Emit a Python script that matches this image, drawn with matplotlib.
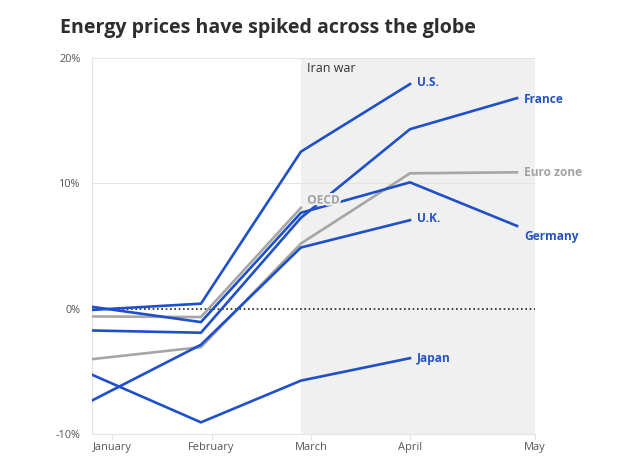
import matplotlib
matplotlib.use("Agg")
import matplotlib.pyplot as plt
import matplotlib.patheffects as pe

# ---- data ----
x_points = [-0.207, 0.893, 1.900, 2.998, 4.076]   # monthly observations (month-index axis)
month_labels = ["January", "February", "March", "April", "May"]
month_ticks = [0, 1, 2, 3, 4.257]

us = [-0.10, 0.40, 12.53, 17.92]
france = [-1.74, -1.92, 7.25, 14.32, 16.80]
euro_zone = [-4.03, -3.07, 5.20, 10.80, 10.88]
germany = [0.15, -1.07, 7.65, 10.08, 6.60]
uk = [-7.34, -2.88, 4.88, 7.06]
oecd = [-0.62, -0.67, 8.05]
japan = [-5.26, -9.07, -5.74, -3.95]

y_ticks = [-10, 0, 10, 20]
y_tick_labels = ["-10%", "0%", "10%", "20%"]

BLUE = "#1f50c9"
BLUE_TXT = "#2553c4"
GRAY = "#a6a6a6"
GRAY_TXT = "#a3a3a3"
SHADE = "#f0f0f0"

plt.rcParams['font.family'] = ['Open Sans', 'DejaVu Sans']

fig = plt.figure(figsize=(6.28, 4.67), dpi=100)
ax = fig.add_axes([91.7/628, 33/467, (535-91.7)/628, (434-58)/467])

xmin, xmax = x_points[0], month_ticks[-1]
ax.set_xlim(xmin, xmax)
ax.set_ylim(-10, 20)

# shaded Iran war period
ax.axvspan(x_points[2], xmax, color=SHADE, zorder=0, lw=0)
ax.text(x_points[2] + 0.065, 19.2, "Iran war", fontsize=9, color="#333333",
        va="center", ha="left", zorder=5)

# grid
for yv in [10, 20]:
    ax.axhline(yv, color="#e4e4e4", lw=0.8, zorder=1)
ax.axhline(0, color="#222222", lw=1.2, ls=(0, (1, 1.6)), zorder=2)

# name, values, line colour, label colour, label offset (points)
series = [
    ("OECD", oecd, GRAY, GRAY_TXT, (4.5, 5.5)),
    ("Euro zone", euro_zone, GRAY, GRAY_TXT, (5, 0)),
    ("U.S.", us, BLUE, BLUE_TXT, (5, 1)),
    ("France", france, BLUE, BLUE_TXT, (5, -1)),
    ("Germany", germany, BLUE, BLUE_TXT, (5, -7.3)),
    ("U.K.", uk, BLUE, BLUE_TXT, (5, 1)),
    ("Japan", japan, BLUE, BLUE_TXT, (5, 0)),
]

for name, vals, col, tcol, off in series:
    xs = x_points[:len(vals)]
    z = 3 if col == GRAY else 4
    ax.plot(xs, vals, color=col, lw=1.9, zorder=z, solid_joinstyle="miter")
    t = ax.annotate(name, (xs[-1], vals[-1]), xytext=off,
                    textcoords="offset points", fontsize=8.6, fontweight="bold",
                    color=tcol, va="center", ha="left", zorder=6)
    if name == "OECD":
        t.set_path_effects([pe.withStroke(linewidth=3, foreground=SHADE)])

# axes styling
for s in ["top", "right"]:
    ax.spines[s].set_visible(False)
ax.spines["left"].set_color("#e4e4e4")
ax.spines["bottom"].set_color("#e4e4e4")
ax.spines["left"].set_linewidth(0.8)
ax.spines["bottom"].set_linewidth(0.8)

ax.set_yticks(y_ticks)
ax.set_yticklabels(y_tick_labels)
ax.tick_params(axis="y", length=0, pad=8, labelsize=7.8, labelcolor="#555555")
ax.set_xticks(month_ticks)
ax.set_xticklabels(month_labels)
ax.tick_params(axis="x", length=4, width=0.8, color="#e4e4e4", pad=2,
               labelsize=7.9, labelcolor="#555555")

fig.text(60/628, 1 - 27.5/467, "Energy prices have spiked across the globe",
         fontsize=14.1, fontweight="bold", color="#2e2e2e", va="center", ha="left")

fig.savefig("out.png", dpi=100)
